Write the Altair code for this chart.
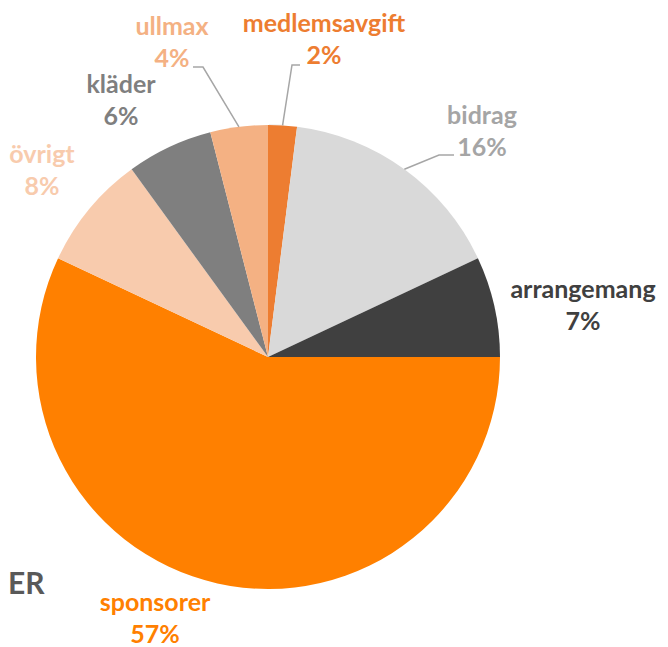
import altair as alt
import pandas as pd
import numpy as np

# ---- data ----
categories = ["medlemsavgift", "bidrag", "arrangemang", "sponsorer", "övrigt", "kläder", "ullmax"]
values = [2, 16, 7, 57, 8, 6, 4]
slice_colors = ["#ED7D31", "#D9D9D9", "#404040", "#FF8000", "#F8CBAD", "#7F7F7F", "#F4B183"]
label_colors = ["#ED7D31", "#A5A5A5", "#404040", "#FF8000", "#F8CBAD", "#7F7F7F", "#F4B183"]

# ---- layout ----
CX, CY, R = 260, 349, 232
W, H = 652, 639
FONT = "Lato"
FS = 25
# label centre offsets from pie centre (px)
label_off = {
    "medlemsavgift": (56, -317),
    "bidrag": (214, -225),
    "arrangemang": (315, -51),
    "sponsorer": (-113, 262),
    "övrigt": (-226, -186),
    "kläder": (-147, -256),
    "ullmax": (-96, -314),
}
# leader line elbow / end offsets from pie centre
leader = {
    "medlemsavgift": [(24, -292), (32, -292)],
    "ullmax": [(-65, -290), (-75, -290)],
    "bidrag": [(171, -202), (186, -202)],
}

total = sum(values)
cum = np.cumsum([0] + values)
mid_deg = [(cum[i] + values[i] / 2) / total * 360 for i in range(len(values))]

pie_df = pd.DataFrame({"cat": categories, "value": values, "order": range(len(values))})

lab_rows = []
for i, c in enumerate(categories):
    dx, dy = label_off[c]
    lab_rows.append({"cat": c, "x": CX + dx, "y": CY + dy - 16, "text": c, "col": label_colors[i]})
    lab_rows.append({"cat": c, "x": CX + dx, "y": CY + dy + 16, "text": f"{values[i]}%", "col": label_colors[i]})
lab_df = pd.DataFrame(lab_rows)

line_rows = []
for c, pts in leader.items():
    i = categories.index(c)
    a = np.deg2rad(mid_deg[i])
    line_rows.append({"cat": c, "o": 0, "x": CX + R * np.sin(a), "y": CY - R * np.cos(a)})
    for k, (dx, dy) in enumerate(pts):
        line_rows.append({"cat": c, "o": k + 1, "x": CX + dx, "y": CY + dy})
line_df = pd.DataFrame(line_rows)

shadow = alt.Chart(pd.DataFrame({"v": [1]})).mark_arc(
    outerRadius=R + 3, color="#000000", opacity=0.06
).encode(theta=alt.Theta("v:Q"), x=alt.value(CX + 1), y=alt.value(CY + 2))

pie = alt.Chart(pie_df).mark_arc(outerRadius=R).encode(
    theta=alt.Theta("value:Q", stack=True),
    order=alt.Order("order:Q"),
    color=alt.Color("cat:N", scale=alt.Scale(domain=categories, range=slice_colors), legend=None),
    x=alt.value(CX), y=alt.value(CY),
)

lines = alt.Chart(line_df).mark_line(color="#A6A6A6", strokeWidth=1.5).encode(
    x=alt.X("x:Q", scale=None), y=alt.Y("y:Q", scale=None),
    detail="cat:N", order="o:Q",
)

labels = alt.Chart(lab_df).mark_text(
    font=FONT, fontSize=FS, fontWeight="bold", align="center", baseline="middle"
).encode(
    x=alt.X("x:Q", scale=None), y=alt.Y("y:Q", scale=None),
    text="text:N", color=alt.Color("col:N", scale=None),
)

title_frag = alt.Chart(pd.DataFrame({"t": ["ER"]})).mark_text(
    font=FONT, fontSize=30, fontWeight="bold", align="left", baseline="middle", color="#595959"
).encode(x=alt.value(0), y=alt.value(577), text="t:N")

chart = alt.layer(shadow, pie, lines, labels, title_frag).properties(
    width=W, height=H, padding=0, autosize="none"
).configure_view(stroke=None)

chart.save("out.html", embed_options={"renderer": "svg", "actions": False})
